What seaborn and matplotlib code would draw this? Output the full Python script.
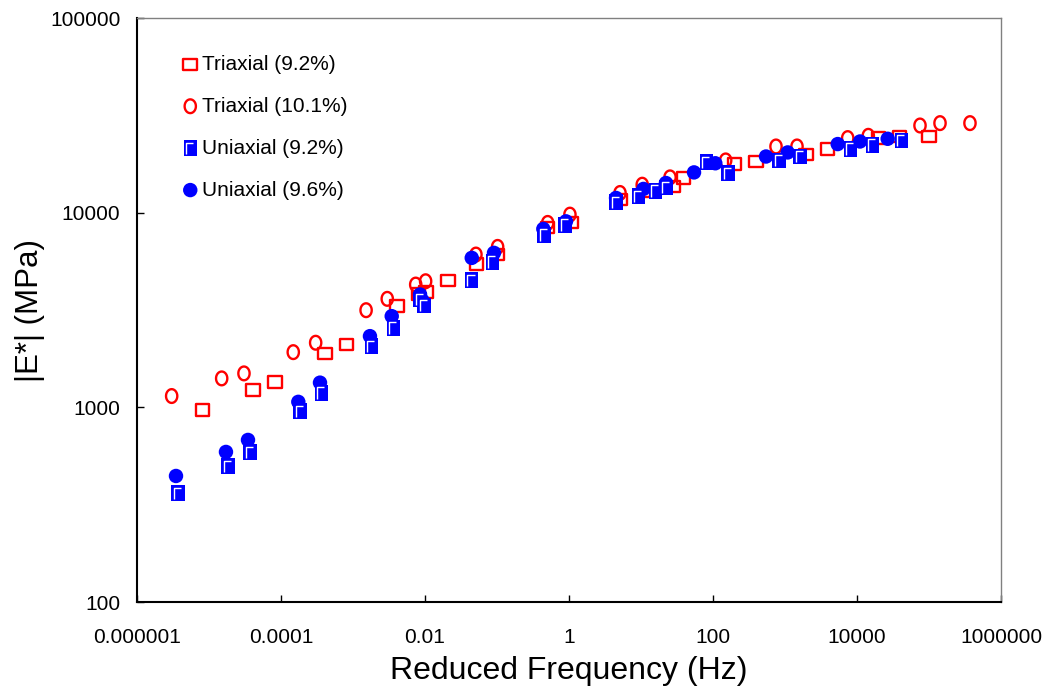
import numpy as np
import matplotlib
matplotlib.use("Agg")
import matplotlib.pyplot as plt
from matplotlib.path import Path
from matplotlib.ticker import FixedLocator, FixedFormatter, NullLocator
import seaborn as sns

# ---------------- data ----------------
tri92_freq = [8.18e-6, 4.05e-5, 8.26e-5, 4.08e-4, 8.18e-4, 4.05e-3, 8.07e-3, 0.0103,
              0.0207, 0.0522, 0.102, 0.506, 1.07, 5.22, 10.8, 28.1, 38.7, 198, 395,
              1958, 3920, 19770, 38690, 100000]
tri92_mod = [969, 1227, 1349, 1892, 2104, 3308, 3830, 3920, 4495, 5455, 6093, 8406,
             8918, 11660, 12860, 13640, 15060, 17780, 18330, 19840, 21290, 24160,
             24620, 24620]

tri101_freq = [3.03e-6, 1.50e-5, 3.06e-5, 1.48e-4, 3.03e-4, 1.52e-3, 2.99e-3, 7.43e-3,
               0.0102, 0.0510, 0.102, 0.506, 1.03, 5.11, 10.4, 25.3, 150, 750, 1468,
               7430, 14360, 75000, 142200, 370700]
tri101_mod = [1143, 1408, 1494, 1921, 2147, 3155, 3608, 4272, 4443, 6093, 6670, 8857,
              9770, 12620, 13920, 15180, 18550, 21880, 21880, 24160, 24820, 28040,
              28840, 28840]

uni92_freq = [3.71e-6, 1.84e-5, 3.71e-5, 1.84e-4, 3.67e-4, 1.82e-3, 3.67e-3, 8.53e-3,
              9.68e-3, 0.0446, 0.0871, 0.450, 0.879, 4.50, 9.17, 16.0, 22.2, 81.7,
              161.6, 825, 1616, 8176, 16520, 41780]
uni92_mod = [362, 500, 590, 957, 1189, 2062, 2562, 3580, 3335, 4495, 5588, 7715, 8680,
             11290, 12120, 12960, 13480, 18150, 15910, 18550, 19430, 21290, 22320, 23480]

uni96_freq = [3.48e-6, 1.72e-5, 3.48e-5, 1.74e-4, 3.48e-4, 1.72e-3, 3.45e-3, 8.53e-3,
              9.2e-3, 0.0446, 0.0908, 0.440, 0.908, 4.50, 10.8, 22.2, 54.5, 107.7, 545,
              1090, 5395, 11010, 26680]
uni96_mod = [444, 590, 680, 1067, 1339, 2321, 2940, 3798, 3537, 5858, 6216, 8250, 9025,
             11900, 13240, 14200, 16100, 17940, 19430, 20390, 22510, 23210, 23960]

series_labels = ["Triaxial (9.2%)", "Triaxial (10.1%)", "Uniaxial (9.2%)", "Uniaxial (9.6%)"]
x_ticks = [1e-6, 1e-4, 1e-2, 1, 100, 1e4, 1e6]
x_tick_labels = ["0.000001", "0.0001", "0.01", "1", "100", "10000", "1000000"]
y_ticks = [100, 1000, 10000, 100000]
y_tick_labels = ["100", "1000", "10000", "100000"]
x_label = "Reduced Frequency (Hz)"
y_label = "|E*| (MPa)"

# ---------------- style ----------------
sns.set_style("ticks")
plt.rcParams['font.family'] = ['Liberation Sans', 'DejaVu Sans']
plt.rcParams['text.color'] = 'black'
plt.rcParams['axes.labelcolor'] = 'black'

W, H = 1052, 690
fig = plt.figure(figsize=(W / 100, H / 100), dpi=100)
ax = fig.add_axes([137 / W, 1 - 602 / H, (1001 - 137) / W, (602 - 18) / H])

# custom markers
sq_wide = Path([(-1, -0.85), (1, -0.85), (1, 0.85), (-1, 0.85), (-1, -0.85)],
               [Path.MOVETO, Path.LINETO, Path.LINETO, Path.LINETO, Path.CLOSEPOLY])
t = np.linspace(0, 2 * np.pi, 49)
ell = Path(np.column_stack([0.82 * np.cos(t), np.sin(t)]), closed=True)
sq_tall = Path([(-0.85, -1), (0.85, -1), (0.85, 1), (-0.85, 1), (-0.85, -1)],
               [Path.MOVETO, Path.LINETO, Path.LINETO, Path.LINETO, Path.CLOSEPOLY])
corner = Path([(0, 1), (0, -1), (-0.55, -0.75), (-0.55, 0.68), (0.35, 0.68)],
              [Path.MOVETO, Path.MOVETO, Path.MOVETO, Path.LINETO, Path.LINETO])

red = "#FF0000"
blue = "#0000FF"

sns.scatterplot(x=tri92_freq, y=tri92_mod, ax=ax, marker=sq_wide, s=95,
                facecolor="none", edgecolor=red, linewidth=1.7, zorder=3)
sns.scatterplot(x=tri101_freq, y=tri101_mod, ax=ax, marker=ell, s=98,
                facecolor="none", edgecolor=red, linewidth=1.7, zorder=3)
sns.scatterplot(x=uni96_freq, y=uni96_mod, ax=ax, marker="o", s=108,
                color=blue, edgecolor="none", linewidth=0, zorder=4)
sns.scatterplot(x=uni92_freq, y=uni92_mod, ax=ax, marker=sq_tall, s=130,
                color=blue, edgecolor="none", linewidth=0, zorder=5)
sns.scatterplot(x=uni92_freq, y=uni92_mod, ax=ax, marker=corner, s=130,
                facecolor="none", edgecolor="white", linewidth=1.0, zorder=6)

colls = ax.collections
handles = [colls[0], colls[1], (colls[3], colls[4]), colls[2]]

ax.set_xscale("log")
ax.set_yscale("log")
ax.set_xlim(1e-6, 1e6)
ax.set_ylim(100, 100000)

ax.xaxis.set_major_locator(FixedLocator(x_ticks))
ax.xaxis.set_major_formatter(FixedFormatter(x_tick_labels))
ax.xaxis.set_minor_locator(NullLocator())
ax.yaxis.set_major_locator(FixedLocator(y_ticks))
ax.yaxis.set_major_formatter(FixedFormatter(y_tick_labels))
ax.yaxis.set_minor_locator(NullLocator())

ax.tick_params(axis="x", direction="in", length=5, width=1, pad=19, labelsize=15,
               colors="black", bottom=True, top=False)
ax.tick_params(axis="y", direction="in", length=5, width=1, pad=12, labelsize=15,
               colors="black", left=True, right=False)

for side in ["left", "bottom"]:
    ax.spines[side].set_color("black")
    ax.spines[side].set_linewidth(1.5)
for side in ["top", "right"]:
    ax.spines[side].set_color("#808080")
    ax.spines[side].set_linewidth(1.0)
    ax.spines[side].set_visible(True)

ax.set_xlabel(x_label, fontsize=23, labelpad=6, color="black")
ax.set_ylabel(y_label, fontsize=22.5, labelpad=3.5, color="black")

ax.legend(handles, series_labels, loc="upper left", bbox_to_anchor=(0.052, 0.937),
          frameon=False, fontsize=15, handlelength=0.8, handletextpad=0.15,
          labelspacing=1.1, borderpad=0, borderaxespad=0)

fig.savefig("out.png", dpi=100, facecolor="white")
